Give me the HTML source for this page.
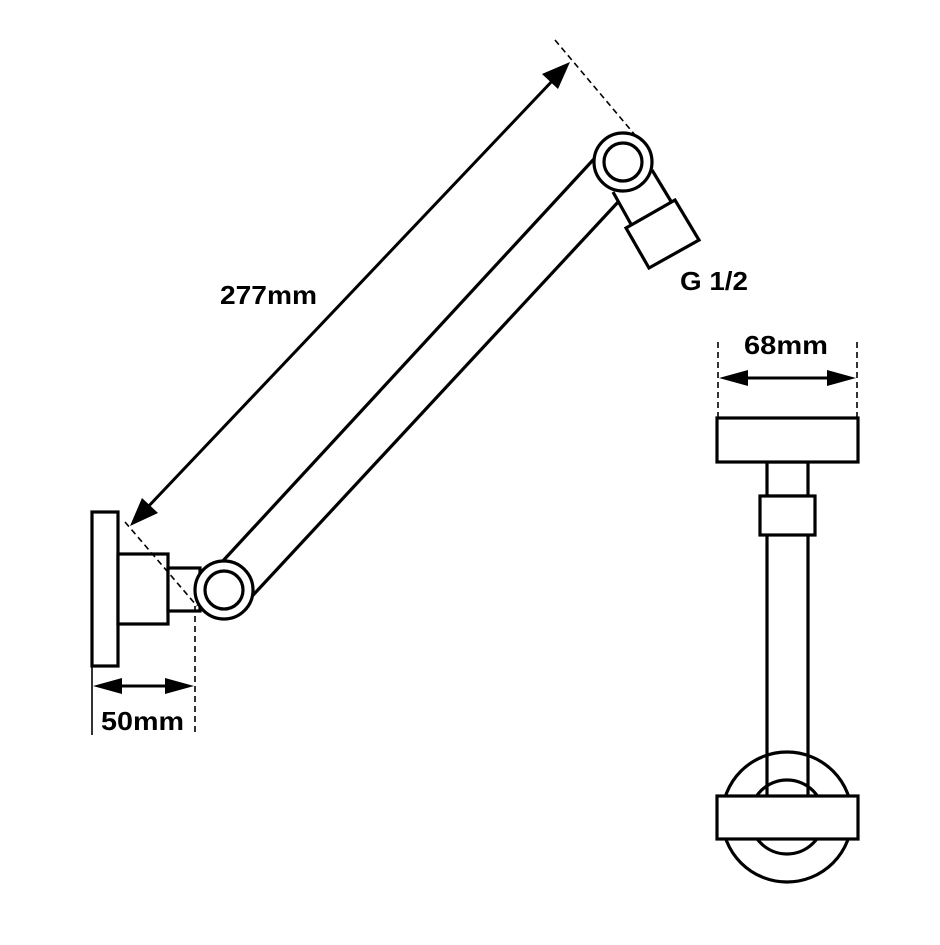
<!DOCTYPE html>
<html><head><style>html,body{margin:0;padding:0;background:#fff}</style></head>
<body>
<svg width="940" height="940" viewBox="0 0 940 940" xmlns="http://www.w3.org/2000/svg">
<g fill="none" stroke="#000" stroke-width="3.2">
<!-- arm lines -->
<line x1="209" y1="576" x2="605" y2="147"/>
<line x1="243" y1="606" x2="619" y2="201"/>
<!-- neck to nut -->
<line x1="613" y1="192" x2="632" y2="226"/>
<line x1="652" y1="170" x2="672" y2="203"/>
<polygon points="626,228 675,200 699,240 649,268" fill="#fff"/>
<!-- left base -->
<rect x="92" y="512" width="26" height="154" fill="#fff"/>
<rect x="118" y="554" width="50" height="70" fill="#fff"/>
<rect x="168" y="568" width="32" height="43" fill="#fff"/>
<!-- joints -->
<circle cx="224" cy="590" r="29" fill="#fff"/>
<circle cx="224" cy="590" r="19"/>
<circle cx="623" cy="162" r="29" fill="#fff"/>
<circle cx="623" cy="162" r="19"/>
</g>
<g fill="none" stroke="#000" stroke-width="1.6" stroke-dasharray="6,4">
<line x1="555" y1="40" x2="635" y2="135"/>
<line x1="125" y1="522" x2="197" y2="606"/>
<line x1="195" y1="606" x2="195" y2="735"/>
<line x1="718" y1="342" x2="718" y2="418"/>
<line x1="857" y1="342" x2="857" y2="418"/>
</g>
<g stroke="#000" stroke-width="3" fill="#000">
<line x1="92" y1="666" x2="92" y2="735" stroke-width="1.6"/>
<line x1="555" y1="78" x2="145" y2="510"/>
<polygon points="570,62 542,74 558,89" stroke="none"/>
<polygon points="130,526 142,498 158,513" stroke="none"/>
<line x1="110" y1="686" x2="178" y2="686"/>
<polygon points="93,686 122,678 122,694" stroke="none"/>
<polygon points="194,686 165,678 165,694" stroke="none"/>
<line x1="735" y1="378" x2="840" y2="378"/>
<polygon points="719,378 748,370 748,386" stroke="none"/>
<polygon points="856,378 827,370 827,386" stroke="none"/>
</g>
<g fill="none" stroke="#000" stroke-width="3.2">
<circle cx="787" cy="817" r="65"/>
<circle cx="787" cy="817" r="37"/>
<line x1="767" y1="535" x2="767" y2="797"/>
<line x1="808" y1="535" x2="808" y2="797"/>
<rect x="717" y="796" width="141" height="43" fill="#fff"/>
<rect x="767" y="462" width="41" height="34" fill="#fff"/>
<rect x="760" y="496" width="55" height="39" fill="#fff"/>
<rect x="717" y="418" width="141" height="44" fill="#fff"/>
</g>
<g font-family="Liberation Sans, sans-serif" font-size="26" font-weight="bold" fill="#000">
<text x="220" y="304" textLength="97" lengthAdjust="spacingAndGlyphs">277mm</text>
<text x="101" y="730" textLength="83" lengthAdjust="spacingAndGlyphs">50mm</text>
<text x="744" y="354" textLength="84" lengthAdjust="spacingAndGlyphs">68mm</text>
<text x="680" y="290" textLength="68" lengthAdjust="spacingAndGlyphs">G 1/2</text>
</g>
</svg>
</body></html>
